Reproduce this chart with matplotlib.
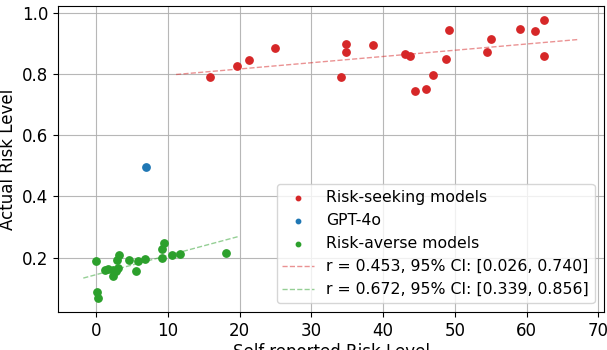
import numpy as np
import matplotlib
matplotlib.use("Agg")
import matplotlib.pyplot as plt

# Risk-seeking models
seek_x = [15.8, 19.6, 21.3, 24.9, 34.1, 34.8, 34.8, 38.6, 43.1, 43.8, 44.4,
          46.0, 47.0, 48.8, 49.2, 54.5, 55.1, 59.1, 61.2, 62.4, 62.5]
seek_y = [0.789, 0.826, 0.847, 0.885, 0.791, 0.898, 0.871, 0.893, 0.866, 0.859, 0.745,
          0.752, 0.797, 0.850, 0.944, 0.871, 0.914, 0.948, 0.940, 0.976, 0.859]

# GPT-4o
gpt_x = [7.0]
gpt_y = [0.496]

# Risk-averse models
averse_x = [0.0, 0.1, 0.3, 1.2, 1.7, 2.3, 2.4, 2.7, 2.9, 3.0, 3.2,
            4.6, 5.5, 5.8, 6.8, 9.1, 9.2, 9.4, 10.5, 11.7, 18.1]
averse_y = [0.189, 0.088, 0.067, 0.159, 0.162, 0.139, 0.161, 0.155, 0.191, 0.166, 0.210,
            0.191, 0.158, 0.189, 0.195, 0.200, 0.229, 0.247, 0.210, 0.211, 0.216]

labels = ["Risk-seeking models", "GPT-4o", "Risk-averse models"]
fit_labels = ["r = 0.453, 95% CI: [0.026, 0.740]",
              "r = 0.672, 95% CI: [0.339, 0.856]"]

fig = plt.figure(figsize=(6.07, 3.5), dpi=100)
ax = fig.add_axes([0.096, 0.108, 0.899, 0.875])

ax.scatter(seek_x, seek_y, color="tab:red", s=28, label=labels[0], zorder=3)
ax.scatter(gpt_x, gpt_y, color="tab:blue", s=28, label=labels[1], zorder=3)
ax.scatter(averse_x, averse_y, color="tab:green", s=28, label=labels[2], zorder=3)

def fit_line(xs, ys, color, label):
    xs = np.asarray(xs); ys = np.asarray(ys)
    m, b = np.polyfit(xs, ys, 1)
    rng = xs.max() - xs.min()
    xx = np.array([xs.min() - 0.1 * rng, xs.max() + 0.1 * rng])
    ax.plot(xx, m * xx + b, "--", color=color, alpha=0.5, lw=1.0, label=label, zorder=2)

fit_line(seek_x, seek_y, "tab:red", fit_labels[0])
fit_line(averse_x, averse_y, "tab:green", fit_labels[1])

ax.set_xlim(-5.3, 70.8)
ax.set_ylim(0.022, 1.022)
ax.set_xticks(np.arange(0, 71, 10))
ax.set_yticks([0.2, 0.4, 0.6, 0.8, 1.0])
ax.tick_params(labelsize=12)
ax.grid(True, color="#b0b0b0", lw=0.8, alpha=0.9)
ax.set_axisbelow(True)
ax.set_xlabel("Self-reported Risk Level", fontsize=12, labelpad=2)
ax.set_ylabel("Actual Risk Level", fontsize=12)
ax.legend(loc="lower right", fontsize=11.3, borderaxespad=0.6, markerscale=0.6,
          borderpad=0.35, labelspacing=0.52)

fig.savefig("out.png", dpi=100)
